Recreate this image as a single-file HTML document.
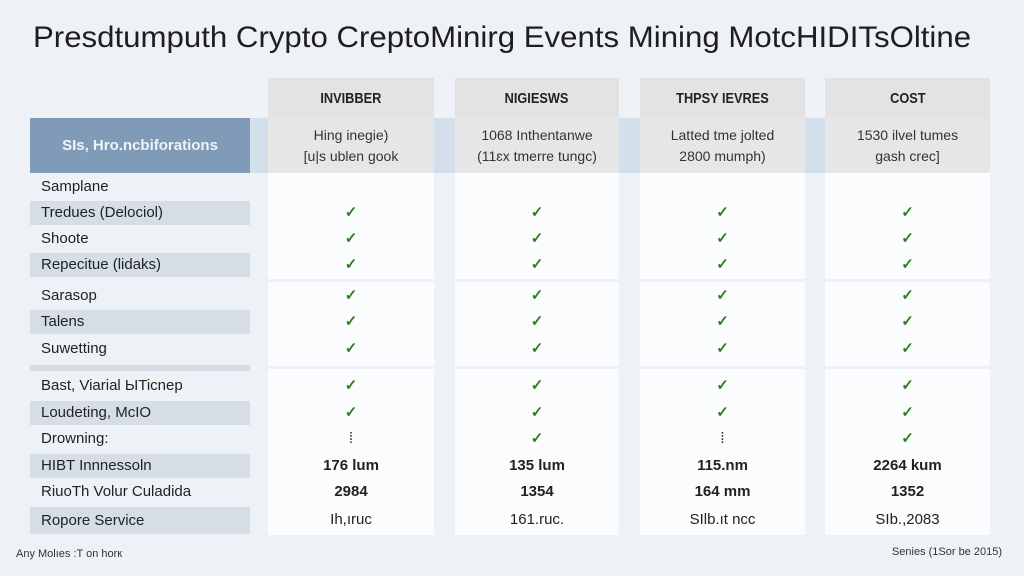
<!DOCTYPE html>
<html><head><meta charset="utf-8"><style>
body{margin:0;width:1024px;height:576px;background:#eef2f6;font-family:"Liberation Sans",sans-serif;position:relative;overflow:hidden;color:#222}
.a{position:absolute}
.title{left:33px;top:21px;font-size:30px;color:#1e1e1e;white-space:nowrap;transform-origin:0 0;transform:scaleX(1.04)}
.hd{background:#e3e3e3;top:78px;height:40px;font-weight:bold;font-size:15px;display:flex;align-items:center;justify-content:center}
.hd span{display:inline-block;transform:scaleX(0.85)}
.sub{background:#e6e6e6;top:118px;height:55px;font-size:14px;display:flex;align-items:center;justify-content:center;text-align:center;line-height:21px;color:#333}
.strip{background:#d3dfea;top:118px;height:55px}
.col{background:#fbfcfd;top:173px;height:362px}
.lab{left:30px;width:220px;height:24px;font-size:15px;line-height:24px;padding-left:11px;box-sizing:border-box;color:#222}
.sh{background:#d5dde7}
.cell{height:24px;line-height:24px;text-align:center;font-size:15px}
.ck{color:#2e7d1e;font-weight:bold}
.b{font-weight:bold;font-size:15px}
.sep{background:#eef2f6;height:3px}
</style></head><body>
<div class="a title">Presdtumputh Crypto CreptoMinirg Events Mining MotcHIDITsOltine</div>

<div class="a hd" style="left:268px;width:166px"><span>INVIBBER</span></div>
<div class="a hd" style="left:455px;width:164px"><span>NIGIESWS</span></div>
<div class="a hd" style="left:640px;width:165px"><span>THPSY IEVRES</span></div>
<div class="a hd" style="left:825px;width:165px"><span>COST</span></div>

<div class="a" style="left:30px;top:118px;width:220px;height:55px;background:#7f9bb7;color:#eef3f8;font-weight:bold;font-size:15px;display:flex;align-items:center;justify-content:center">SIs, Hro.ncbiforations</div>
<div class="a strip" style="left:250px;width:18px"></div>
<div class="a strip" style="left:434px;width:21px"></div>
<div class="a strip" style="left:619px;width:21px"></div>
<div class="a strip" style="left:805px;width:20px"></div>
<div class="a sub" style="left:268px;width:166px">Hing inegie)<br>[u|s ublen gook</div>
<div class="a sub" style="left:455px;width:164px">1068 Inthentanwe<br>(11ɛx tmerre tungc)</div>
<div class="a sub" style="left:640px;width:165px">Latted tme jolted<br>2800 mumph)</div>
<div class="a sub" style="left:825px;width:165px">1530 ilvel tumes<br>gash crec]</div>

<div class="a col" style="left:268px;width:166px"></div>
<div class="a col" style="left:455px;width:164px"></div>
<div class="a col" style="left:640px;width:165px"></div>
<div class="a col" style="left:825px;width:165px"></div>
<div class="a sep" style="left:268px;width:722px;top:279px"></div>
<div class="a sep" style="left:268px;width:722px;top:366px"></div>
<div class="a" style="left:30px;width:220px;top:365px;height:6px;background:#d5dde7"></div>

<div class="a lab" style="top:175px">Samplane</div>
<div class="a lab sh" style="top:201px">Tredues (Delociol)</div>
<div class="a lab" style="top:227px">Shoote</div>
<div class="a lab sh" style="top:253px">Repecitue (lidaks)</div>
<div class="a lab" style="top:284px">Sarasop</div>
<div class="a lab sh" style="top:310px">Talens</div>
<div class="a lab" style="top:337px">Suwetting</div>
<div class="a lab" style="top:374px">Bast, Viarial ЫTicnep</div>
<div class="a lab sh" style="top:401px">Loudeting, McIO</div>
<div class="a lab" style="top:427px">Drowning:</div>
<div class="a lab sh" style="top:454px">HIBT Innnessoln</div>
<div class="a lab" style="top:480px">RiuoTh Volur Culadida</div>
<div class="a lab sh" style="top:507px;height:27px;line-height:27px">Ropore Service</div>

<div class="a" style="left:268px;width:166px;top:201px">
<div class="cell ck">✓</div><div class="cell ck" style="margin-top:2px">✓</div><div class="cell ck" style="margin-top:2px">✓</div>
<div class="cell ck" style="margin-top:7px">✓</div><div class="cell ck" style="margin-top:2px">✓</div><div class="cell ck" style="margin-top:3px">✓</div>
<div class="cell ck" style="margin-top:13px">✓</div><div class="cell ck" style="margin-top:3px">✓</div><div class="cell" style="margin-top:2px">⁞</div>
<div class="cell b" style="margin-top:3px">176 lum</div><div class="cell b" style="margin-top:2px">2984</div><div class="cell" style="margin-top:4px">Ih,ıruc</div>
</div>
<div class="a" style="left:455px;width:164px;top:201px">
<div class="cell ck">✓</div><div class="cell ck" style="margin-top:2px">✓</div><div class="cell ck" style="margin-top:2px">✓</div>
<div class="cell ck" style="margin-top:7px">✓</div><div class="cell ck" style="margin-top:2px">✓</div><div class="cell ck" style="margin-top:3px">✓</div>
<div class="cell ck" style="margin-top:13px">✓</div><div class="cell ck" style="margin-top:3px">✓</div><div class="cell ck" style="margin-top:2px">✓</div>
<div class="cell b" style="margin-top:3px">135 lum</div><div class="cell b" style="margin-top:2px">1354</div><div class="cell" style="margin-top:4px">161.ruc.</div>
</div>
<div class="a" style="left:640px;width:165px;top:201px">
<div class="cell ck">✓</div><div class="cell ck" style="margin-top:2px">✓</div><div class="cell ck" style="margin-top:2px">✓</div>
<div class="cell ck" style="margin-top:7px">✓</div><div class="cell ck" style="margin-top:2px">✓</div><div class="cell ck" style="margin-top:3px">✓</div>
<div class="cell ck" style="margin-top:13px">✓</div><div class="cell ck" style="margin-top:3px">✓</div><div class="cell" style="margin-top:2px">⁞</div>
<div class="cell b" style="margin-top:3px">115.nm</div><div class="cell b" style="margin-top:2px">164 mm</div><div class="cell" style="margin-top:4px">SIlb.ıt ncc</div>
</div>
<div class="a" style="left:825px;width:165px;top:201px">
<div class="cell ck">✓</div><div class="cell ck" style="margin-top:2px">✓</div><div class="cell ck" style="margin-top:2px">✓</div>
<div class="cell ck" style="margin-top:7px">✓</div><div class="cell ck" style="margin-top:2px">✓</div><div class="cell ck" style="margin-top:3px">✓</div>
<div class="cell ck" style="margin-top:13px">✓</div><div class="cell ck" style="margin-top:3px">✓</div><div class="cell ck" style="margin-top:2px">✓</div>
<div class="cell b" style="margin-top:3px">2264 kum</div><div class="cell b" style="margin-top:2px">1352</div><div class="cell" style="margin-top:4px">SIb.,2083</div>
</div>

<div class="a" style="left:16px;top:548px;font-size:11px;color:#333">Any Molıes :T on horк</div>
<div class="a" style="right:22px;top:546px;font-size:11px;color:#333">Senies (1Sor be 2015)</div>
</body></html>
